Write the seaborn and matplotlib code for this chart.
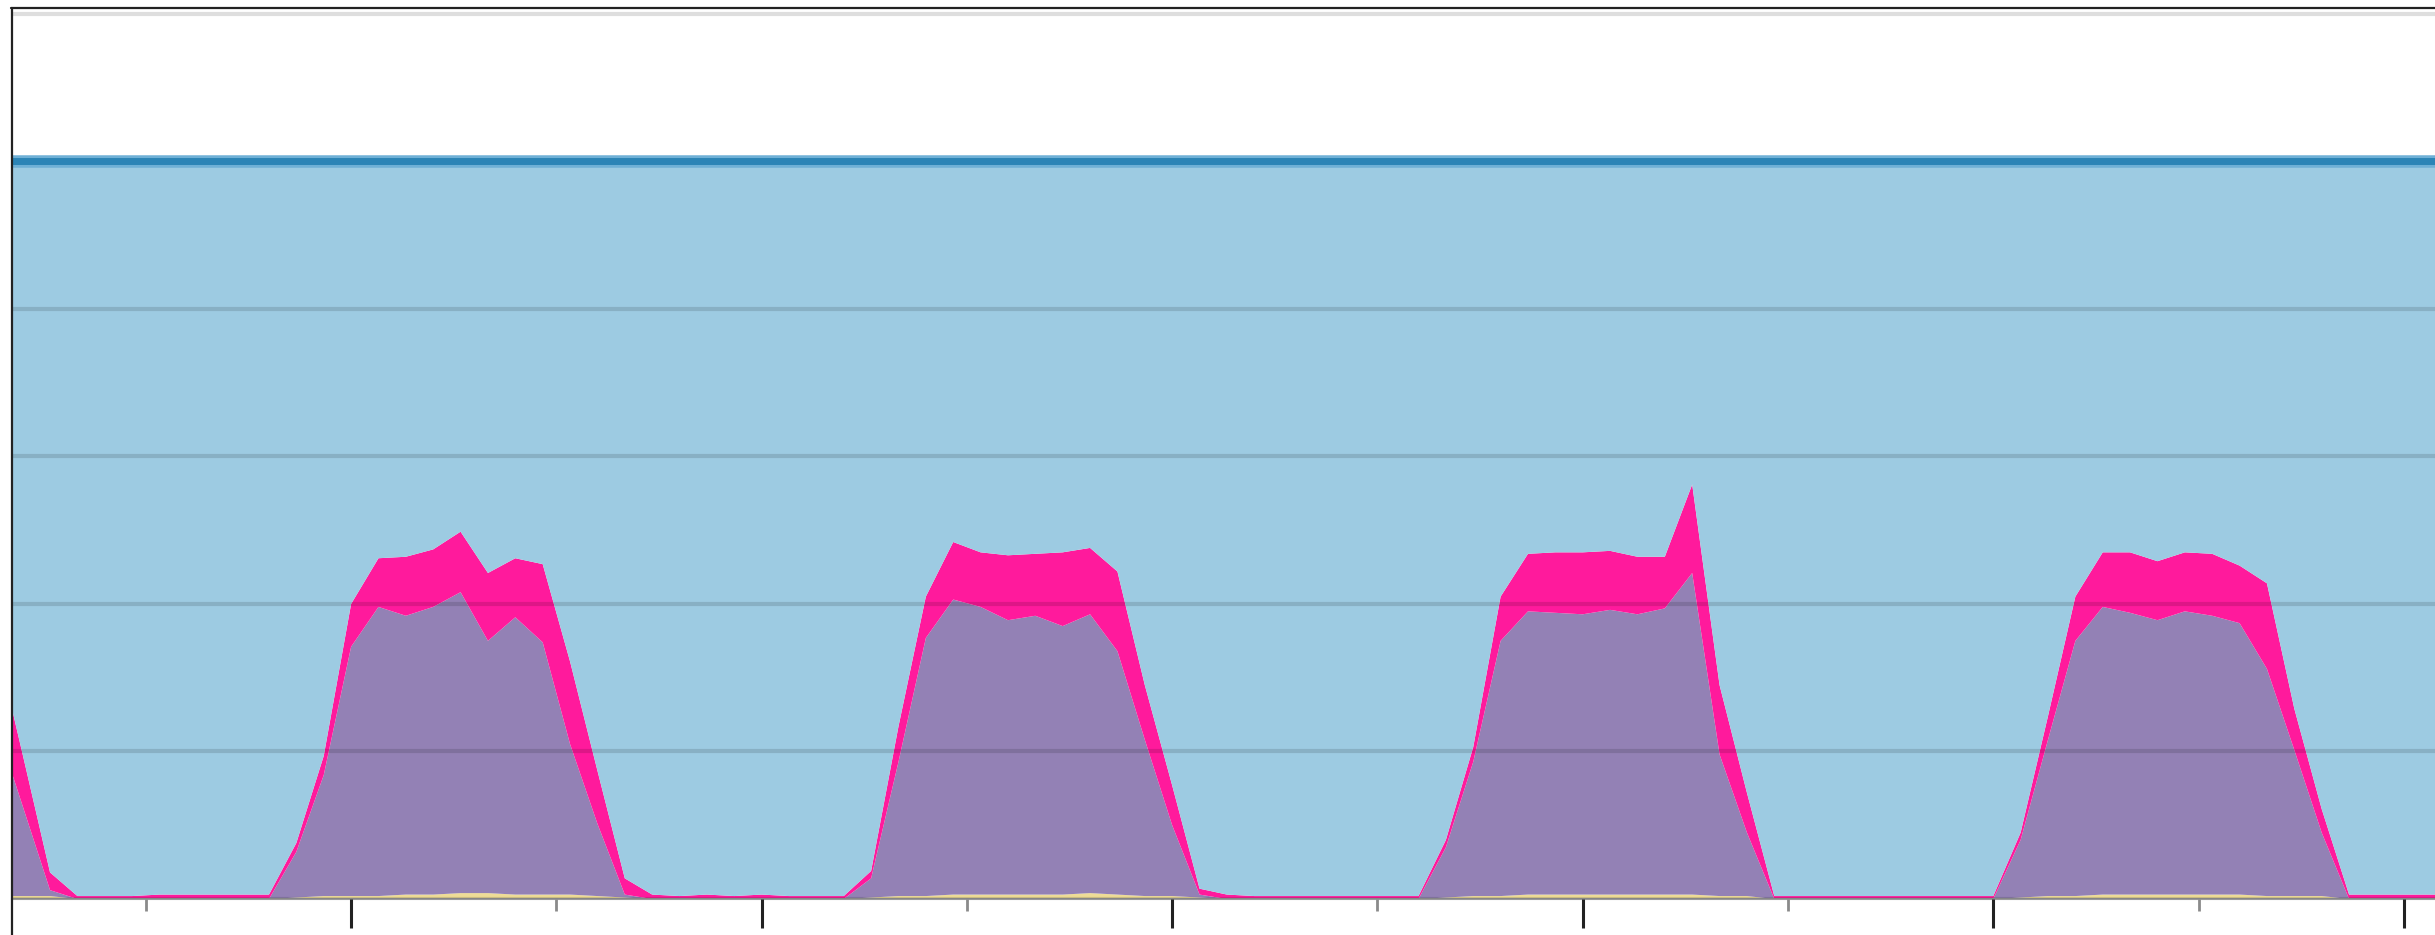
import numpy as np
import pandas as pd
import matplotlib
matplotlib.use("Agg")
import matplotlib.pyplot as plt
from matplotlib.lines import Line2D
from matplotlib.ticker import MultipleLocator, NullFormatter
import seaborn as sns

# sample index along x (major tick every 15 samples)
sample = list(range(2, 93))

# stacked series, bottom to top
yellow = [0.02, 0.02, 0.02, 0, 0, 0, 0, 0, 0, 0, 0,
          0.01, 0.02, 0.02, 0.02, 0.03, 0.03, 0.04, 0.04, 0.03, 0.03, 0.03, 0.02, 0.01,
          0, 0, 0, 0, 0, 0, 0, 0,
          0.01, 0.02, 0.02, 0.03, 0.03, 0.03, 0.03, 0.03, 0.04, 0.03, 0.02, 0.02, 0.01,
          0, 0, 0, 0, 0, 0, 0, 0,
          0.01, 0.02, 0.02, 0.03, 0.03, 0.03, 0.03, 0.03, 0.03, 0.03, 0.02, 0.02,
          0, 0, 0, 0, 0, 0, 0, 0, 0,
          0.01, 0.02, 0.02, 0.03, 0.03, 0.03, 0.03, 0.03, 0.03, 0.02, 0.02, 0.02,
          0, 0, 0, 0, 0]
purple = [1.18, 0.61, 0.04, 0, 0, 0, 0, 0, 0, 0, 0,
          0.31, 0.82, 1.69, 1.96, 1.89, 1.95, 2.04, 1.71, 1.88, 1.71, 1.02, 0.49, 0.02,
          0, 0, 0, 0, 0, 0, 0, 0,
          0.13, 0.91, 1.75, 2.00, 1.95, 1.86, 1.89, 1.82, 1.89, 1.65, 1.06, 0.48, 0.02,
          0, 0, 0, 0, 0, 0, 0, 0,
          0.34, 0.91, 1.73, 1.92, 1.91, 1.90, 1.93, 1.90, 1.94, 2.18, 0.96, 0.43,
          0, 0, 0, 0, 0, 0, 0, 0, 0,
          0.39, 1.06, 1.73, 1.95, 1.91, 1.86, 1.92, 1.89, 1.84, 1.54, 0.99, 0.43,
          0, 0, 0, 0, 0]
pink = [0.57, 0.35, 0.12, 0.02, 0.02, 0.02, 0.03, 0.03, 0.03, 0.03, 0.03,
        0.06, 0.13, 0.29, 0.33, 0.40, 0.39, 0.41, 0.46, 0.40, 0.53, 0.56, 0.36, 0.11,
        0.03, 0.02, 0.03, 0.02, 0.03, 0.02, 0.02, 0.02,
        0.05, 0.24, 0.28, 0.39, 0.37, 0.44, 0.42, 0.50, 0.45, 0.54, 0.37, 0.27, 0.04,
        0.03, 0.02, 0.02, 0.02, 0.02, 0.02, 0.02, 0.02,
        0.05, 0.10, 0.30, 0.39, 0.41, 0.42, 0.40, 0.39, 0.35, 0.60, 0.47, 0.27,
        0.02, 0.02, 0.02, 0.02, 0.02, 0.02, 0.02, 0.02, 0.02,
        0.05, 0.16, 0.30, 0.37, 0.41, 0.40, 0.40, 0.42, 0.39, 0.58, 0.28, 0.16,
        0.03, 0.03, 0.03, 0.03, 0.03]
capacity = 5.0

c_yellow = "#eedc96"
c_purple = "#9381b5"
c_pink = "#ff1a9c"
c_blue = "#9dcbe2"
c_line = "#2c84b6"

df = pd.DataFrame({"sample": sample, "yellow": yellow, "purple": purple, "pink": pink})
df["top"] = df["yellow"] + df["purple"] + df["pink"]
df["capacity"] = capacity

sns.set_theme(style="white")
W, H = 2435, 935
fig = plt.figure(figsize=(W / 100, H / 100), dpi=100)
ax = fig.add_axes([12 / W, 36 / H, (W - 12) / W, 891 / H])

ax.stackplot(df["sample"], df["yellow"], df["purple"], df["pink"],
             colors=[c_yellow, c_purple, c_pink], linewidth=0, zorder=1)
ax.fill_between(df["sample"], df["top"], df["capacity"], color=c_blue, lw=0, zorder=1)
sns.lineplot(data=df, x="sample", y="capacity", color="#6fb0d6", lw=9, ax=ax, zorder=3)
sns.lineplot(data=df, x="sample", y="capacity", color=c_line, lw=5, ax=ax, zorder=3)

ax.set_xlim(2.61, 91.14)
ax.set_ylim(0, 6.04)
ax.set_xlabel("")
ax.set_ylabel("")

ax.yaxis.set_major_locator(MultipleLocator(1))
ax.grid(axis="y", color="black", alpha=0.13, lw=3)
ax.grid(axis="x", visible=False)
ax.set_axisbelow(False)

ax.xaxis.set_major_locator(MultipleLocator(15))
ax.xaxis.set_minor_locator(MultipleLocator(7.5))
ax.xaxis.set_major_formatter(NullFormatter())
ax.tick_params(axis="x", which="major", direction="out", bottom=True,
               length=21, width=2.2, color="#222222", labelbottom=False)
ax.tick_params(axis="x", which="minor", direction="out", bottom=True,
               length=8.5, width=2, color="#8a8a8a")
ax.tick_params(axis="y", left=False, labelleft=False)

for side in ["top", "right", "left"]:
    ax.spines[side].set_visible(False)
ax.spines["bottom"].set_color("#9a9a9a")
ax.spines["bottom"].set_linewidth(1.5)

# outer frame on left and top
fig.add_artist(Line2D([12 / W, 12 / W], [0, 1 - 7.5 / H], transform=fig.transFigure,
                      color="#222222", lw=1.6))
fig.add_artist(Line2D([11 / W, 1], [1 - 8.3 / H, 1 - 8.3 / H], transform=fig.transFigure,
                      color="#222222", lw=1.6))

fig.savefig("out.png", dpi=100, facecolor="white")
